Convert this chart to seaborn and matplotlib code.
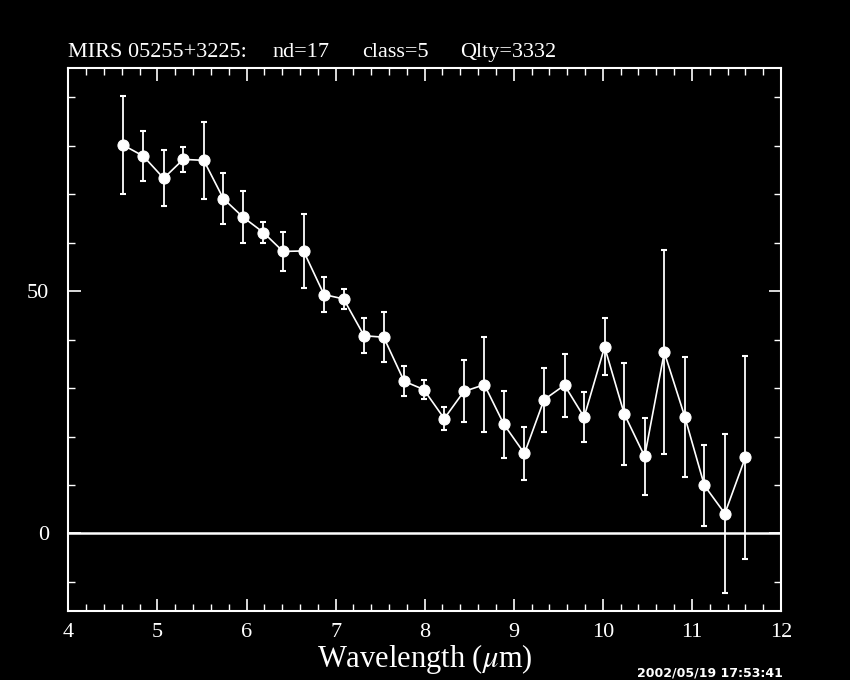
import matplotlib
matplotlib.use("Agg")
import matplotlib.pyplot as plt
from matplotlib.ticker import MultipleLocator
import seaborn as sns
import pandas as pd

# spectrum
wavelength = [4.61, 4.84, 5.07, 5.29, 5.52, 5.74, 5.96, 6.19, 6.41, 6.64, 6.87,
              7.09, 7.32, 7.54, 7.77, 7.99, 8.22, 8.44, 8.67, 8.89, 9.12, 9.34,
              9.57, 9.79, 10.02, 10.24, 10.47, 10.69, 10.92, 11.14, 11.37, 11.60]
flux = [80.2, 77.9, 73.3, 77.2, 77.0, 69.1, 65.3, 62.1, 58.2, 58.3, 49.3,
        48.4, 40.8, 40.5, 31.4, 29.7, 23.7, 29.3, 30.7, 22.5, 16.5, 27.6,
        30.6, 24.0, 38.5, 24.7, 15.9, 37.4, 24.1, 9.9, 4.1, 15.7]
flux_err = [10.1, 5.2, 5.8, 2.6, 7.9, 5.3, 5.4, 2.2, 4.0, 7.7, 3.6,
            2.0, 3.6, 5.1, 3.1, 1.9, 2.4, 6.4, 9.8, 6.9, 5.5, 6.6,
            6.5, 5.1, 5.9, 10.5, 8.0, 21.1, 12.4, 8.4, 16.4, 21.0]

title_parts = ["MIRS 05255+3225:", "nd=17", "class=5", "Qlty=3332"]
title_x = [0.080, 0.321, 0.426, 0.541]
stamp = "2002/05/19 17:53:41"

df = pd.DataFrame({"wl": wavelength, "flux": flux, "err": flux_err})

sns.set_style("ticks")
plt.rcParams["font.family"] = ["Liberation Serif", "DejaVu Serif"]
plt.rcParams["mathtext.fontset"] = "stix"

fig = plt.figure(figsize=(8.5, 6.8), dpi=100, facecolor="black")
ax = fig.add_axes([0.0804, 0.1015, 0.8384, 0.7981])
ax.set_facecolor("black")

ax.axhline(0, color="white", lw=1.8, zorder=1)
ax.errorbar(df.wl, df.flux, yerr=df.err, fmt="none", ecolor="white",
            elinewidth=1.3, capsize=2.5, capthick=1.5, zorder=2)
sns.lineplot(data=df, x="wl", y="flux", ax=ax, color="white", lw=1.2,
             marker="o", markersize=8, markeredgecolor="white",
             markerfacecolor="white", zorder=3)

ax.set_xlim(4, 12)
ax.set_ylim(-16, 96)
ax.xaxis.set_major_locator(MultipleLocator(1))
ax.xaxis.set_minor_locator(MultipleLocator(0.2))
ax.yaxis.set_major_locator(MultipleLocator(50))
ax.yaxis.set_minor_locator(MultipleLocator(10))
ax.tick_params(which="both", direction="in", top=True, right=True,
               colors="white", labelcolor="white", labelsize=16)
ax.tick_params(which="major", length=9, width=1.2, pad=9)
ax.tick_params(which="minor", length=5, width=1)
ax.tick_params(axis="y", which="major", pad=14)
for sp in ax.spines.values():
    sp.set_color("white")
    sp.set_linewidth(1.5)

ax.set_xlabel("Wavelength ($\\mu$m)", color="white", fontsize=22, labelpad=0)
ax.set_ylabel("")

for txt, x in zip(title_parts, title_x):
    fig.text(x, 0.916, txt, color="white", fontsize=16, ha="left",
             va="baseline")
fig.text(0.921, 0.0, stamp, color="white", fontsize=9, ha="right",
         va="bottom", fontweight="bold", family="DejaVu Sans")

fig.savefig("out.png", dpi=100, facecolor="black")
